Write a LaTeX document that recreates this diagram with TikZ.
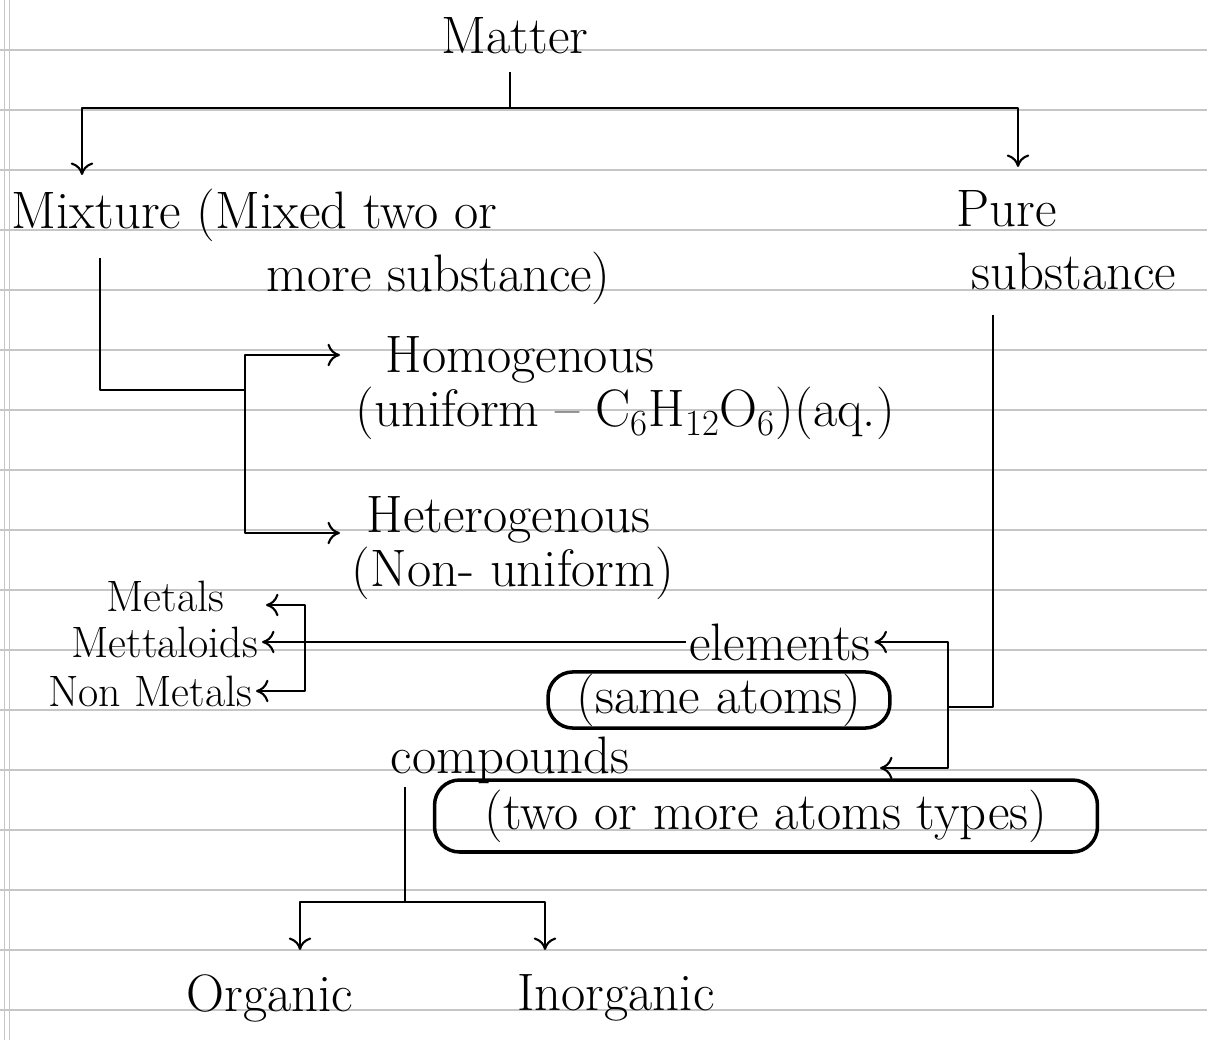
\documentclass[tikz,border=0pt]{standalone}
\usepackage{amsmath}
\usepackage{tikz}
\usetikzlibrary{calc,arrows.meta}

\tikzset{
  word/.style={inner sep=2pt, font=\fontsize{30}{36}\selectfont},
  small/.style={inner sep=2pt, font=\fontsize{25}{30}\selectfont},
  link/.style={line width=1.2pt, line join=round},
  arr/.style={link, -{To[length=2.5mm,width=4.5mm]}},
  ring/.style={word, inner sep=1pt, draw, line width=2pt, rounded corners=0.5cm},
}

\begin{document}
\begin{tikzpicture}[x=0.02cm, y=-0.02cm]
  \useasboundingbox (0,0) rectangle (1207,1040);
  %ruled paper
  \foreach \k in {0,...,16}
    \draw[gray!45, line width=0.8pt] (0,50+60*\k) -- (1207,50+60*\k);
  \draw[gray!45] (4,0) -- (4,1040);
  \draw[gray!45] (9,0) -- (9,1040);

  %top of the tree
  \node[word] (matter) at (515,36) {Matter};
  \node[word, anchor=west, align=left] (mix) at (8,247)
    {Mixture (Mixed two or\\\hspace*{5.1cm}more substance)};
  \node[word, anchor=west, align=left] (pure) at (953,240)
    {Pure\\\hspace*{0.3cm}substance};

  %kinds of mixture
  \node[word, anchor=west, align=left, font=\fontsize{30}{31}\selectfont] (homo) at (352,388)
    {\hspace*{0.6cm}Homogenous\\(uniform -- C\textsubscript{6}H\textsubscript{12}O\textsubscript{6})(aq.)};
  \node[word, anchor=west, align=left, font=\fontsize{30}{31}\selectfont] (hete) at (348,548)
    {\hspace*{0.3cm}Heterogenous\\(Non- uniform)};

  %kinds of pure substance
  \node[word] (elem) at (780,642) {elements};
  \node[ring, minimum width=6.84cm, minimum height=1.0cm] (same) at (719,700) {(same atoms)};
  \node[word] (comp) at (510,760) {compounds};
  \node[ring, minimum width=13.26cm, minimum height=1.44cm] (types) at (766,816) {(two or more atoms types)};

  %kinds of element
  \node[small, anchor=east] (metal) at (228,596) {Metals};
  \node[small, anchor=east] (metd) at (262,642) {Mettaloids};
  \node[small, anchor=east] (nonm) at (256,691) {Non Metals};

  %kinds of compound
  \node[word] (org) at (270,998) {Organic};
  \node[word] (inorg) at (616,998) {Inorganic};

  %first split
  \coordinate (top) at (510,108);
  \coordinate (mixtip) at (82,175);
  \coordinate (puretip) at (1018,167);
  \draw[link, shorten <=8pt] (matter.south -| top) -- (top);
  \draw[arr] (top) -| (mixtip);
  \draw[arr] (top) -| (puretip);

  %mixture branch
  \coordinate (mixfoot) at (100,258);
  \coordinate (split) at (245,390);
  \coordinate (homotip) at (340,355);
  \coordinate (hetetip) at (340,533);
  \draw[link] (mixfoot) |- (split);
  \draw[arr] (split) |- (homotip);
  \draw[arr] (split) |- (hetetip);

  %pure substance branch
  \coordinate (purefoot) at (993,315);
  \coordinate (pjoin) at (948,707);
  \coordinate (comptip) at (880,768);
  \draw[link] (purefoot) |- (pjoin);
  \draw[arr] (pjoin) |- (elem.east);
  \draw[arr] (pjoin) |- (comptip);

  %element branch
  \coordinate (msplit) at (305,642);
  \coordinate (metaltip) at (266,605);
  \draw[arr] (elem.west) -- (metd.east);
  \draw[arr] (msplit) |- (metaltip);
  \draw[arr] (msplit) |- (nonm.east);

  %compound branch
  \coordinate (csplit) at (405,902);
  \coordinate (orgtip) at (300,950);
  \coordinate (inorgtip) at (545,950);
  \draw[link] (comp.south -| csplit) -- (csplit);
  \draw[arr] (csplit) -| (orgtip);
  \draw[arr] (csplit) -| (inorgtip);
\end{tikzpicture}
\end{document}
